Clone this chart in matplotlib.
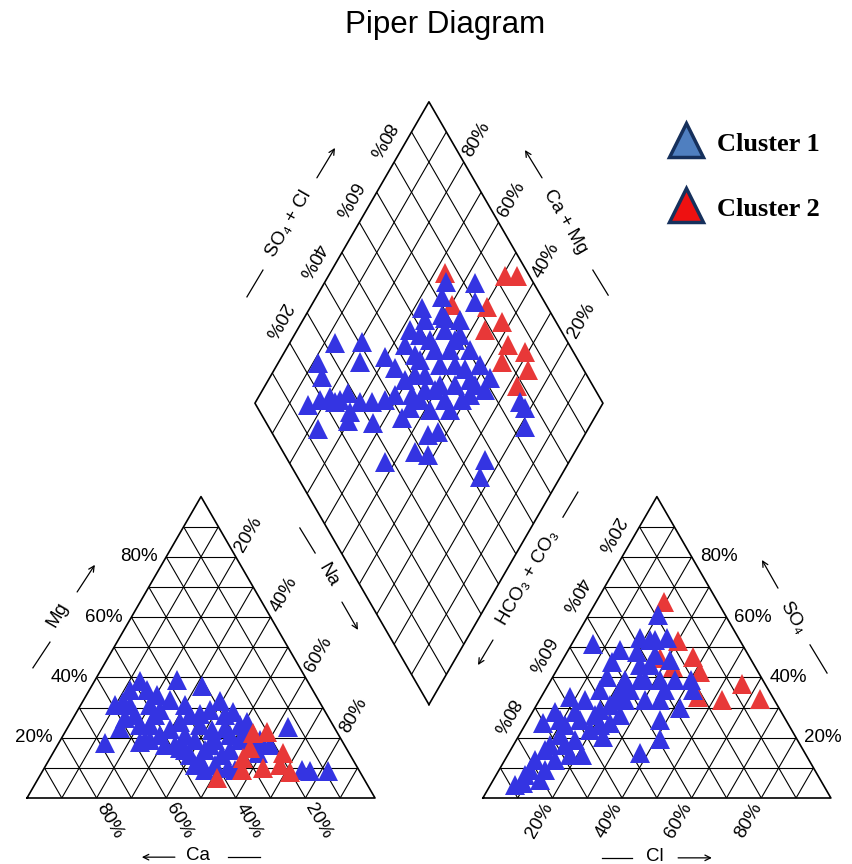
import numpy as np
import matplotlib
matplotlib.use("Agg")
import matplotlib.pyplot as plt

plt.rcParams['font.family'] = ['Liberation Sans', 'DejaVu Sans']

# cation triangle: (Ca %, Mg %)
cat_blue_ca = [68.5, 48.1, 37.3, 31.1, 45.5, 56.5, 28.4, 26.5, 36.4, 13.2, 24.2, 47.5, 14.2, 9.0,
               55.2, 52.6, 56.5, 51.5, 44.2, 46.0, 38.6, 40.5, 33.7, 35.6, 25.7, 26.1, 38.2, 31.5,
               47.7, 61.7, 52.5, 47.2, 44.2, 27.0, 16.3, 59.3, 47.6,
               55.4, 51.4, 43.4, 42.1, 35.5, 36.9, 44.0, 55.0, 29.2, 29.4, 32.8, 39.2, 21.4, 49.4,
               58.6, 49.3, 42.7, 39.4, 48.7, 55.1, 41.0, 36.4, 31.2, 26.7, 23.4, 37.3, 58.2, 46.6,
               46.2]
cat_blue_mg = [18.2, 38.8, 39.1, 37.1, 34.2, 31.8, 32.2, 28.5, 27.9, 23.5, 25.2, 22.9, 9.0, 9.0,
               27.5, 24.2, 19.2, 17.6, 20.9, 14.3, 17.6, 10.9, 15.9, 9.3, 17.6, 14.9, 24.2, 23.2,
               16.6, 23.2, 35.8, 29.2, 9.3, 20.9, 9.3, 30.8, 35.8,
               24.2, 20.9, 25.2, 19.2, 22.6, 14.3, 12.6, 30.8, 19.2, 27.5, 29.2, 30.8, 17.6, 27.5,
               26.5, 30.8, 32.5, 27.5, 17.6, 19.2, 15.9, 19.2, 20.9, 24.2, 19.2, 9.9, 18.6, 15.9,
               10.9]
cat_red_ca = [42.1, 24.3, 20.1, 31.3, 19.0, 20.1, 27.2, 27.6, 33.6, 21.8]
cat_red_mg = [6.6, 21.6, 21.9, 13.3, 14.9, 8.6, 9.9, 16.6, 9.3, 10.9]

# anion triangle: (Cl %, SO4 %)
an_blue_cl = [6.0, 14.5, 26.3, 20.1, 21.8, 25.7, 35.6, 42.4, 25.6, 21.5, 34.6, 41.7, 37.9, 41.1,
              37.7, 21.3, 19.0, 14.9, 11.7, 9.9, 8.9, 7.1, 13.2, 17.8, 19.4, 24.0, 24.6, 8.3,
              6.5, 4.8, 15.6, 23.1, 30.8, 9.0, 24.4, 20.0,
              14.8, 25.9, 24.3, 21.1, 18.4, 16.8, 14.4, 13.4, 13.0, 15.7, 25.6, 30.3, 34.4, 9.2,
              8.3, 8.6, 10.5, 11.5, 12.2, 21.5, 21.7, 21.3, 27.0, 31.3, 23.2, 18.6, 40.3, 14.8]
an_blue_so4 = [51.1, 45.1, 53.1, 48.4, 52.4, 47.4, 39.1, 35.8, 39.1, 35.8, 32.5, 29.9, 25.9, 19.6,
               14.9, 14.3, 29.2, 25.9, 20.9, 15.9, 9.3, 4.3, 9.3, 14.3, 22.6, 24.9, 32.5, 33.5,
               28.5, 24.9, 40.1, 44.1, 45.8, 5.0, 20.2, 60.7,
               49.1, 44.1, 35.8, 30.8, 27.5, 19.2, 12.6, 6.0, 32.5, 35.8, 27.5, 32.5, 35.8, 25.9,
               7.6, 12.6, 17.6, 24.2, 28.5, 24.2, 32.5, 39.1, 39.1, 39.1, 52.4, 53.1, 39.1, 17.6]
an_red_cl = [19.5, 30.0, 36.9, 41.5, 55.5, 63.2, 52.4, 45.0, 32.9, 27.7]
an_red_so4 = [65.0, 52.1, 46.8, 41.8, 37.8, 32.8, 32.5, 33.5, 43.4, 46.4]

# diamond: (SO4+Cl %, Ca+Mg %)
dia_blue_an = [75.0, 83.1, 80.0, 71.3, 63.8, 33.0, 40.9, 37.1, 45.1, 46.1, 24.8, 23.6, 14.9, 13.9,
               23.2, 28.4, 23.8, 30.6, 33.8, 37.9, 43.7, 39.8, 44.5, 47.8, 37.9, 41.1, 27.6, 56.7,
               52.5, 76.8, 73.7, 76.3, 58.7, 54.0, 53.6, 53.9, 60.8, 66.8, 70.2, 70.6, 71.1, 71.7,
               60.5, 60.0, 59.6, 46.5, 49.2, 54.9, 47.0, 68.4,
               62.7, 60.5, 64.9, 65.9, 66.2, 55.2, 47.9, 50.7, 72.7, 41.6, 22.6, 30.4, 25.9,
               56.6, 52.8, 54.6, 63.8, 65.7, 68.3, 56.2, 51.1, 63.2, 68.0, 68.8, 19.3, 25.0]
dia_blue_cat = [65.2, 56.7, 53.6, 63.9, 67.8, 87.0, 79.5, 76.7, 70.3, 65.6, 88.6, 85.1, 84.5, 77.6,
                77.2, 75.0, 70.4, 62.8, 66.6, 63.2, 54.7, 55.4, 45.0, 42.6, 45.9, 41.7, 52.8, 24.5,
                23.1, 21.6, 18.5, 24.1, 63.9, 62.0, 55.8, 50.5, 60.2, 57.6, 52.4, 47.0, 41.7, 36.7,
                45.5, 41.1, 53.2, 56.2, 48.6, 42.9, 60.8, 60.9,
                64.9, 57.2, 52.8, 45.3, 39.8, 45.9, 53.2, 58.7, 54.9, 61.2, 79.5, 70.0, 71.3,
                67.6, 66.5, 59.8, 48.9, 42.1, 36.1, 49.8, 53.3, 39.6, 53.0, 59.5, 81.8, 76.1]
dia_red_an = [76.2, 93.0, 96.4, 72.9, 82.6, 78.3, 84.5, 82.4, 77.9, 83.9, 78.2, 86.1]
dia_red_cat = [67.0, 49.3, 45.9, 59.7, 49.3, 46.1, 42.5, 37.0, 35.8, 27.1, 27.5, 30.9]

ticks = [20, 40, 60, 80]
blue = '#3434e2'
red = '#e83838'

H = np.sqrt(3) / 2
G = 31.0
OFF = 100 + G
BX, BY = 100 + G / 2, G * H


def cat_xy(ca, mg):
    ca, mg = np.asarray(ca), np.asarray(mg)
    return 100 - ca - mg / 2, mg * H


def an_xy(cl, so4):
    cl, so4 = np.asarray(cl), np.asarray(so4)
    return OFF + cl + so4 / 2, so4 * H


def dia_xy(u, v):
    u, v = np.asarray(u), np.asarray(v)
    return BX + (u - v) / 2, BY + (u + v) * H


def seg(f, a, b, lw=0.8):
    x0, y0 = f(*a)
    x1, y1 = f(*b)
    ax.plot([x0, x1], [y0, y1], color='black', lw=lw, solid_capstyle='butt', zorder=1)


def along(pt, ang, d=7.5):
    r = np.deg2rad(ang)
    return pt[0] + d * np.cos(r), pt[1] + d * np.sin(r)


fig = plt.figure(figsize=(8.53, 8.64), dpi=100)
ax = fig.add_axes([0, 0, 1, 1])
ax.set_xlim(-27 / 3.48, (853 - 27) / 3.48)
ax.set_ylim((798 - 864) / 3.48, 798 / 3.48)
ax.axis('off')

# grids
for p in range(10, 100, 10):
    seg(cat_xy, (100 - p, p), (0, p))
    seg(cat_xy, (p, 0), (p, 100 - p))
    seg(cat_xy, (100 - p, 0), (0, 100 - p))
    seg(an_xy, (0, p), (100 - p, p))
    seg(an_xy, (p, 0), (0, p))
    seg(an_xy, (p, 0), (p, 100 - p))
    seg(dia_xy, (p, 0), (p, 100))
    seg(dia_xy, (0, p), (100, p))

for f, pts in [(cat_xy, [(100, 0), (0, 0), (0, 100), (100, 0)]),
               (an_xy, [(0, 0), (100, 0), (0, 100), (0, 0)]),
               (dia_xy, [(0, 0), (100, 0), (100, 100), (0, 100), (0, 0)])]:
    xs, ys = f([q[0] for q in pts], [q[1] for q in pts])
    ax.plot(xs, ys, color='black', lw=1.2, zorder=1)

# tick labels
fs = 13.5
for p in ticks:
    x, y = cat_xy(100 - p, p)
    ax.text(x - 2.5, y, f'{p}%', ha='right', va='center', fontsize=fs)
    ax.text(*along(cat_xy(0, 100 - p), 60), f'{p}%', rotation=60, ha='center', va='center', fontsize=fs)
    ax.text(*along(cat_xy(p, 0), -60), f'{p}%', rotation=-60, ha='center', va='center', fontsize=fs)

    ax.text(*along(an_xy(0, 100 - p), 120), f'{p}%', rotation=-120, ha='center', va='center', fontsize=fs)
    x, y = an_xy(100 - p, p)
    ax.text(x + 2.3, y, f'{p}%', ha='left', va='center', fontsize=fs)
    ax.text(*along(an_xy(p, 0), 240), f'{p}%', rotation=60, ha='center', va='center', fontsize=fs)

    ax.text(*along(dia_xy(p, 100), 120), f'{p}%', rotation=-120, ha='center', va='center', fontsize=fs)
    ax.text(*along(dia_xy(100, p), 60), f'{p}%', rotation=60, ha='center', va='center', fontsize=fs)


# axis titles with arrows
def title_arrow(label, pos, rot, line, arrow):
    ax.text(pos[0], pos[1], label, rotation=rot, ha='center', va='center', fontsize=13.5)
    ax.plot([line[0], line[2]], [line[1], line[3]], color='black', lw=0.9)
    ax.annotate('', xy=(arrow[2], arrow[3]), xytext=(arrow[0], arrow[1]),
                arrowprops=dict(arrowstyle='->', lw=0.9, color='black', shrinkA=0, shrinkB=0))


title_arrow('Mg', (8.9, 52.6), 60, (1.7, 37.4, 6.6, 44.8), (14.4, 59.2, 19.5, 67.0))
title_arrow('Ca', (49.1, -16.4), 0, (57.8, -17.0, 67.0, -17.0), (42.5, -17.0, 33.0, -17.0))
title_arrow('Na', (86.5, 64.1), -60, (78.4, 77.6, 82.8, 70.4), (90.5, 56.3, 95.1, 48.3))
title_arrow('Cl', (180.5, -16.7), 0, (165.2, -17.2, 173.9, -17.2), (187.1, -17.2, 196.8, -17.2))
title_arrow('SO₄', (220.1, 51.7), -60, (225.0, 44.0, 229.9, 35.9), (215.8, 60.3, 211.2, 68.4))
title_arrow('HCO₃ + CO₃', (144.0, 63.2), 60, (154.0, 80.7, 158.3, 87.9), (133.9, 45.4, 129.6, 38.2))
title_arrow('SO₄ + Cl', (75.3, 164.9), 60, (63.2, 144.0, 67.8, 151.7), (83.3, 178.2, 88.5, 186.8))
title_arrow('Ca + Mg', (154.6, 165.5), -60, (162.6, 151.7, 167.0, 144.5), (148.0, 178.2, 143.1, 186.2))

# samples
ms = 14.5
x, y = cat_xy(cat_blue_ca, cat_blue_mg)
ax.plot(x, y, ls='none', marker='^', ms=ms, mew=0, color=blue, zorder=3)
x, y = cat_xy(cat_red_ca, cat_red_mg)
ax.plot(x, y, ls='none', marker='^', ms=ms, mew=0, color=red, zorder=4)

x, y = an_xy(an_red_cl, an_red_so4)
ax.plot(x, y, ls='none', marker='^', ms=ms, mew=0, color=red, zorder=3)
x, y = an_xy(an_blue_cl, an_blue_so4)
ax.plot(x, y, ls='none', marker='^', ms=ms, mew=0, color=blue, zorder=4)

x, y = dia_xy(dia_red_an, dia_red_cat)
ax.plot(x, y, ls='none', marker='^', ms=ms, mew=0, color=red, zorder=3)
x, y = dia_xy(dia_blue_an, dia_blue_cat)
ax.plot(x, y, ls='none', marker='^', ms=ms, mew=0, color=blue, zorder=4)

# legend
for yy, fc, lab in [(189.1, '#4f7fc0', 'Cluster 1'), (170.4, '#ee1111', 'Cluster 2')]:
    ax.plot([189.4], [yy], marker='^', ms=24, mew=2.5, mec='#16305c', mfc=fc, ls='none')
    ax.text(198.3, yy - 1.2, lab, fontsize=19, family='Liberation Serif', weight='bold',
            ha='left', va='center')

fig.text(0.522, 0.971, 'Piper Diagram', ha='center', va='center', fontsize=22.5)

fig.savefig('out.png', dpi=100)
